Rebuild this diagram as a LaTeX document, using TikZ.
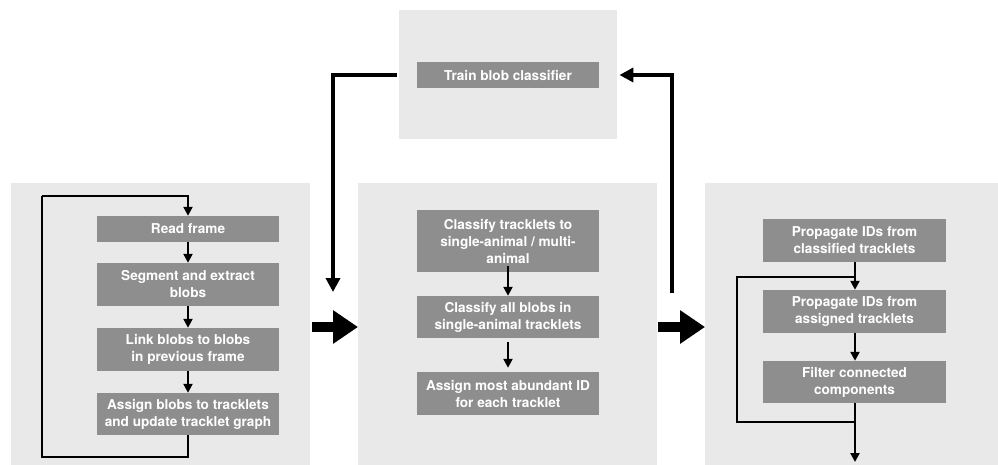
\documentclass[tikz,border=0pt]{standalone}
\usepackage{fontspec}
\setmainfont{TeX Gyre Heros}
\usetikzlibrary{arrows.meta}
\definecolor{panelgray}{HTML}{E9E9E9}
\definecolor{boxgray}{HTML}{8E8E8E}
\begin{document}
\begin{tikzpicture}[x=1pt,y=-1pt,
  panel/.style={fill=panelgray, draw=none, anchor=north west, inner sep=0pt},
  stepbox/.style={fill=boxgray, draw=none, text=white, inner sep=0pt,
    minimum width=182pt, align=center,
    font=\fontsize{13.6}{17}\selectfont\bfseries},
  arr/.style={line width=2.2pt, -{Triangle[width=9pt,length=9pt]}},
  arrB/.style={line width=3.6pt, -{Triangle[width=14pt,length=14pt]}},
  fat/.style={line width=10pt, -{Triangle[width=32pt,length=25pt]}},
  loopline/.style={line width=2.2pt}
]
\useasboundingbox (0,0) rectangle (998,465);
% panels
\node[panel, minimum width=299pt, minimum height=282pt] (pl) at (11,183) {};
\node[panel, minimum width=218pt, minimum height=129pt] (pt) at (399,10) {};
\node[panel, minimum width=299pt, minimum height=282pt] (pm) at (358,183) {};
\node[panel, minimum width=293pt, minimum height=282pt] (pr) at (705,183) {};

% left boxes
\node[stepbox, minimum height=26pt] (read) at (188,229) {Read frame};
\node[stepbox, minimum height=43pt] (seg) at (188,284.5) {Segment and extract\\blobs};
\node[stepbox, minimum height=43pt] (link) at (188,349.5) {Link blobs to blobs\\in previous frame};
\node[stepbox, minimum height=42pt] (assign) at (188,414) {Assign blobs to tracklets\\and update tracklet graph};

% top box
\node[stepbox, minimum height=26pt] (train) at (508,75) {Train blob classifier};

% middle boxes
\node[stepbox, minimum height=62pt] (cls1) at (508,241) {Classify tracklets to\\single-animal / multi-\\animal};
\node[stepbox, minimum height=42pt] (cls2) at (508,317) {Classify all blobs in\\single-animal tracklets};
\node[stepbox, minimum height=43pt] (abund) at (508,393.5) {Assign most abundant ID\\for each tracklet};

% right boxes
\node[stepbox, minimum height=43pt, minimum width=183pt] (p1) at (854.5,240.5) {Propagate IDs from\\classified tracklets};
\node[stepbox, minimum height=43pt, minimum width=183pt] (p2) at (854.5,311.5) {Propagate IDs from\\assigned tracklets};
\node[stepbox, minimum height=42pt, minimum width=183pt] (filt) at (854.5,382) {Filter connected\\components};

% left connectors
\coordinate (lb) at (42,457);
\coordinate (lt) at (42,196);
\draw[loopline] (assign.south) |- (lb) -- (lt);
\draw[arr] (lt) -| (read.north);
\draw[arr] (read) -- (seg);
\draw[arr] (seg) -- (link);
\draw[arr] (link) -- (assign);

% middle connectors
\draw[arr] ([yshift=6pt]cls1.south) -- (cls2.north);
\draw[arr, shorten <=4pt, shorten >=4pt] (cls2) -- (abund);

% right connectors
\coordinate (rb) at (737,422);
\coordinate (rt) at (737,277);
\coordinate (rend) at (855,462);
\draw[arr] (p1.south -| rend) -- (p2.north -| rend);
\draw[arr] (p2.south -| rend) -- (filt.north -| rend);
\draw[loopline] (filt.south -| rend) |- (rb) -- (rt) -- (rt -| rend);
\draw[arr] (filt.south -| rend) -- (rend);

% top connectors
\coordinate (c1) at (333,292);
\coordinate (c2) at (672,293);
\draw[arrB] ([xshift=-2pt]pt.west |- train) -| (c1);
\draw[arrB] (c2) |- ([xshift=2pt]pt.east |- train);

% fat arrows
\draw[fat, shorten <=2pt] (pl.east |- 0,327) -- (pm.west |- 0,327);
\draw[fat, shorten <=1pt] (pm.east |- 0,327) -- (pr.west |- 0,327);
\end{tikzpicture}
\end{document}
